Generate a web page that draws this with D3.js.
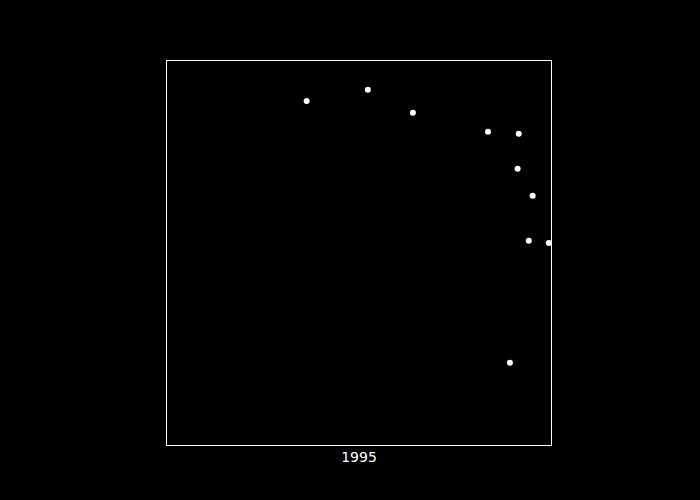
<!DOCTYPE html>
<html>
<head>
<meta charset="utf-8">
<script src="https://cdn.jsdelivr.net/npm/d3@7"></script>
<style>
  html, body { margin: 0; padding: 0; background: #000; }
  svg { display: block; }
</style>
</head>
<body>
<svg id="chart" width="700" height="500"></svg>
<script>
const xValues = [36.4, 52.3, 64.0, 83.5, 91.5, 91.2, 95.1, 94.1, 99.3, 89.2];
const yValues = [89.5, 92.4, 86.4, 81.5, 81.0, 71.9, 64.9, 53.2, 52.6, 21.5];
const xTitle = "1995";

const svg = d3.select("#chart");
const plotLeft = 166.5, plotRight = 551.5, plotTop = 60.5, plotBottom = 445.5;

svg.append("rect").attr("width", 700).attr("height", 500).attr("fill", "#000");

const x = d3.scaleLinear().domain([0, 100]).range([plotLeft, plotRight]);
const y = d3.scaleLinear().domain([0, 100]).range([plotBottom, plotTop]);

svg.append("rect")
  .attr("x", plotLeft).attr("y", plotTop)
  .attr("width", plotRight - plotLeft).attr("height", plotBottom - plotTop)
  .attr("fill", "none").attr("stroke", "#fff").attr("stroke-width", 1);

const data = xValues.map((v, i) => ({ x: v, y: yValues[i] }));

svg.append("g").selectAll("circle").data(data).enter().append("circle")
  .attr("cx", d => x(d.x)).attr("cy", d => y(d.y))
  .attr("r", 3).attr("fill", "#fff");

svg.append("text")
  .attr("x", (plotLeft + plotRight) / 2).attr("y", 462)
  .attr("text-anchor", "middle")
  .attr("font-family", "'DejaVu Sans', sans-serif")
  .attr("font-size", 14)
  .attr("fill", "#fff")
  .text(xTitle);
</script>
</body>
</html>
